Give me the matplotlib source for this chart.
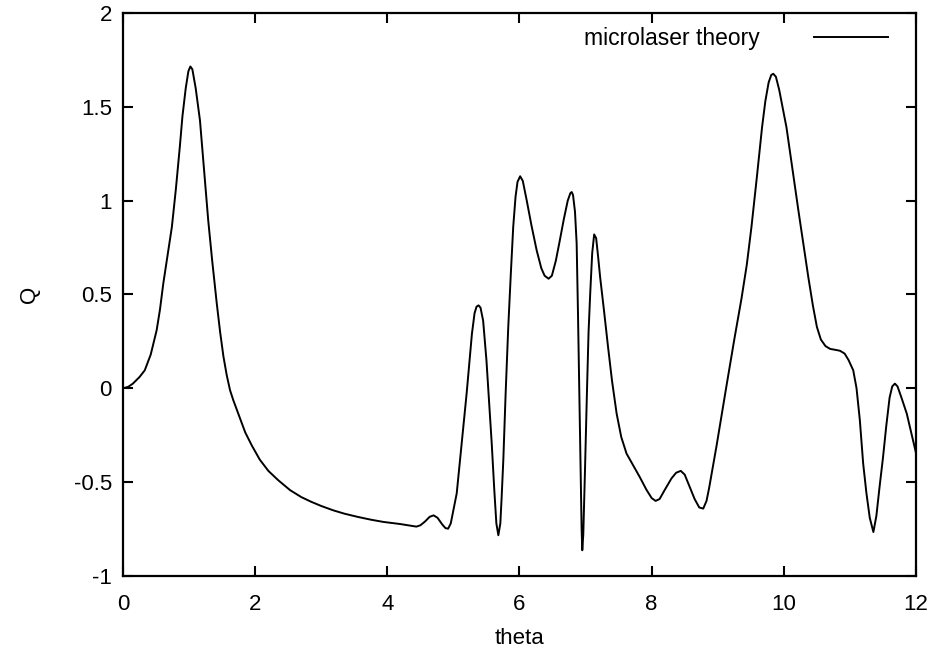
import matplotlib
matplotlib.use("Agg")
import matplotlib.pyplot as plt

# values
theta = [
    0.0, 0.08, 0.15, 0.25, 0.33, 0.42, 0.51, 0.56, 0.61, 0.68,
    0.74, 0.80, 0.86, 0.90, 0.95, 0.99, 1.02, 1.05, 1.10, 1.165,
    1.23, 1.29, 1.35, 1.42, 1.47, 1.52, 1.57, 1.62, 1.67, 1.75,
    1.85, 1.95, 2.07, 2.2, 2.35, 2.53, 2.7, 2.85, 3.0, 3.18,
    3.35, 3.55, 3.75, 3.94, 4.19, 4.44, 4.50, 4.57, 4.64, 4.70,
    4.76, 4.83, 4.88, 4.92, 4.96, 5.00, 5.05, 5.12, 5.20, 5.28,
    5.32, 5.35, 5.38, 5.41, 5.45, 5.50, 5.54, 5.58, 5.62, 5.65,
    5.68, 5.71, 5.73, 5.755, 5.79, 5.83, 5.87, 5.905, 5.94, 5.97,
    6.01, 6.05, 6.11, 6.18, 6.26, 6.33, 6.38, 6.44, 6.49, 6.55,
    6.61, 6.67, 6.73, 6.77, 6.79, 6.81, 6.84, 6.865, 6.885, 6.905,
    6.925, 6.94, 6.95, 6.965, 6.99, 7.02, 7.045, 7.07, 7.10, 7.13,
    7.16, 7.19, 7.22, 7.28, 7.34, 7.40, 7.47, 7.54, 7.62, 7.72,
    7.82, 7.92, 8.0, 8.06, 8.12, 8.20, 8.30, 8.37, 8.44, 8.50,
    8.57, 8.65, 8.72, 8.78, 8.83, 8.87, 8.92, 8.98, 9.05, 9.14,
    9.25, 9.36, 9.44, 9.51, 9.59, 9.67, 9.72, 9.77, 9.81, 9.84,
    9.88, 9.93, 9.98, 10.04, 10.13, 10.22, 10.30, 10.37, 10.44, 10.50,
    10.56, 10.63, 10.70, 10.78, 10.85, 10.92, 10.98, 11.05, 11.10, 11.15,
    11.20, 11.25, 11.30, 11.355, 11.40, 11.45, 11.50, 11.55, 11.60, 11.64,
    11.68, 11.72, 11.78, 11.86, 11.93, 12.0,
]
q = [
    0.0, 0.008, 0.025, 0.06, 0.096, 0.18, 0.31, 0.42, 0.558, 0.72,
    0.86, 1.06, 1.286, 1.45, 1.6, 1.69, 1.715, 1.70, 1.6, 1.428,
    1.15, 0.895, 0.68, 0.45, 0.30, 0.17, 0.07, -0.01, -0.064, -0.14,
    -0.235, -0.305, -0.38, -0.44, -0.49, -0.543, -0.58, -0.605, -0.627, -0.65,
    -0.668, -0.685, -0.70, -0.712, -0.723, -0.737, -0.73, -0.71, -0.685, -0.677,
    -0.69, -0.725, -0.745, -0.748, -0.72, -0.65, -0.56, -0.31, -0.028, 0.29,
    0.40, 0.435, 0.442, 0.43, 0.36, 0.149, -0.07, -0.295, -0.55, -0.72,
    -0.783, -0.72, -0.58, -0.384, -0.03, 0.327, 0.62, 0.86, 1.02, 1.10,
    1.13, 1.105, 1.0, 0.87, 0.735, 0.64, 0.60, 0.584, 0.60, 0.68,
    0.788, 0.90, 1.0, 1.04, 1.046, 1.03, 0.94, 0.771, 0.40, -0.028,
    -0.45, -0.75, -0.863, -0.78, -0.45, -0.028, 0.30, 0.505, 0.72, 0.82,
    0.80, 0.70, 0.593, 0.41, 0.22, 0.04, -0.135, -0.26, -0.348, -0.41,
    -0.473, -0.54, -0.585, -0.60, -0.59, -0.54, -0.48, -0.45, -0.44, -0.46,
    -0.52, -0.59, -0.635, -0.641, -0.60, -0.53, -0.43, -0.31, -0.16, 0.03,
    0.26, 0.48, 0.66, 0.86, 1.12, 1.39, 1.53, 1.63, 1.67, 1.676,
    1.66, 1.59, 1.50, 1.39, 1.17, 0.948, 0.76, 0.593, 0.44, 0.327,
    0.26, 0.225, 0.21, 0.205, 0.20, 0.185, 0.15, 0.096, 0.0, -0.17,
    -0.40, -0.56, -0.69, -0.766, -0.68, -0.52, -0.37, -0.20, -0.05, 0.01,
    0.025, 0.01, -0.05, -0.135, -0.24, -0.345,
]
xticks = [0, 2, 4, 6, 8, 10, 12]
yticks = [-1, -0.5, 0, 0.5, 1, 1.5, 2]
ytick_labels = ["-1", "-0.5", "0", "0.5", "1", "1.5", "2"]

plt.rcParams["font.family"] = ["Liberation Sans", "DejaVu Sans"]

fig = plt.figure(figsize=(9.33, 6.56), dpi=100)
ax = fig.add_axes([0.1318, 0.122, 0.85, 0.8582])

ax.plot(theta, q, color="black", lw=1.4, label="microlaser theory")

ax.set_xlim(0, 12)
ax.set_ylim(-1, 2)
ax.set_xticks(xticks)
ax.set_yticks(yticks)
ax.set_yticklabels(ytick_labels)
ax.tick_params(direction="in", length=7, width=1.5, labelsize=16,
               top=True, right=True)
ax.tick_params(axis="x", pad=13)
ax.tick_params(axis="y", pad=8)
for s in ax.spines.values():
    s.set_linewidth(1.6)

ax.set_xlabel("theta", fontsize=16, labelpad=9)
ax.set_ylabel("Q", fontsize=16, labelpad=24)

ax.legend(loc="upper right", bbox_to_anchor=(0.976, 0.991), borderaxespad=0,
          frameon=False, markerfirst=False, fontsize=16.5,
          handlelength=3.2, handletextpad=2.4)

fig.savefig("out.png", dpi=100)
